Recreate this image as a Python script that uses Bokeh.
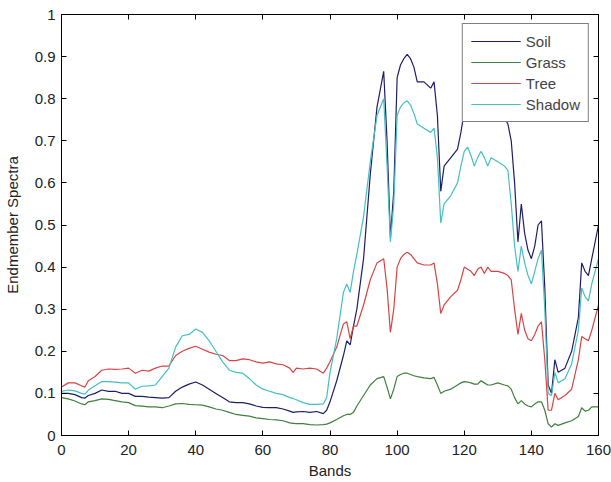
from bokeh.plotting import figure
from bokeh.models import LinearAxis, FixedTicker, Range1d, Legend, LegendItem
from bokeh.embed import file_html
from bokeh.resources import INLINE

bands = [0,2,4,6,7,8,10,12,14,16,
         18,20,22,24,26,28,30,32,34,36,
         38,40,42,44,46,48,50,52,54,56,
         58,60,62,64,66,68,69,70,72,74,
         76,78,79,80,82,84,85,86,87,88,
         90,92,94,96,97,98,99,100,101,102,
         103,104,105,106,108,110,111,112,113,114,
         116,118,119,120,121,122,123,124,125,126,
         127,128,130,132,133,134,135,136,137,138,
         139,140,141,142,143,144,145,146,147,148,
         150,152,154,155,156,157,158,160]

soil = [0.100,0.100,0.097,0.090,0.089,0.095,0.100,0.108,0.105,0.105,
        0.100,0.100,0.093,0.093,0.091,0.090,0.089,0.090,0.105,0.115,
        0.122,0.127,0.120,0.110,0.100,0.090,0.080,0.078,0.078,0.075,
        0.070,0.067,0.066,0.066,0.063,0.058,0.055,0.056,0.057,0.055,
        0.057,0.052,0.060,0.080,0.130,0.190,0.225,0.215,0.260,0.300,
        0.420,0.620,0.780,0.865,0.700,0.470,0.580,0.850,0.880,0.895,
        0.905,0.895,0.875,0.840,0.840,0.825,0.840,0.760,0.580,0.640,
        0.660,0.680,0.720,0.770,0.790,0.790,0.780,0.790,0.800,0.790,
        0.780,0.790,0.780,0.755,0.740,0.700,0.600,0.460,0.550,0.480,
        0.440,0.420,0.450,0.500,0.510,0.350,0.120,0.100,0.180,0.150,
        0.160,0.200,0.280,0.410,0.390,0.380,0.420,0.500]

grass = [0.090,0.087,0.082,0.075,0.073,0.080,0.083,0.087,0.086,0.083,
         0.080,0.078,0.071,0.070,0.068,0.068,0.066,0.070,0.075,0.076,
         0.074,0.073,0.072,0.068,0.063,0.060,0.055,0.050,0.048,0.046,
         0.042,0.040,0.038,0.037,0.035,0.030,0.029,0.028,0.028,0.026,
         0.025,0.026,0.027,0.030,0.038,0.047,0.050,0.050,0.055,0.070,
         0.095,0.120,0.135,0.140,0.115,0.087,0.110,0.140,0.145,0.148,
         0.148,0.145,0.142,0.140,0.137,0.135,0.138,0.120,0.100,0.105,
         0.110,0.120,0.125,0.128,0.127,0.125,0.122,0.122,0.130,0.125,
         0.120,0.120,0.125,0.120,0.118,0.110,0.090,0.075,0.083,0.075,
         0.070,0.068,0.075,0.080,0.080,0.060,0.028,0.020,0.028,0.024,
         0.030,0.035,0.045,0.066,0.058,0.060,0.068,0.068]

tree = [0.115,0.125,0.125,0.118,0.115,0.130,0.140,0.155,0.158,0.157,
        0.158,0.160,0.148,0.155,0.153,0.160,0.165,0.165,0.190,0.200,
        0.207,0.212,0.205,0.198,0.193,0.190,0.178,0.178,0.182,0.180,
        0.175,0.172,0.175,0.170,0.168,0.160,0.150,0.160,0.158,0.160,
        0.158,0.148,0.160,0.175,0.210,0.265,0.270,0.230,0.260,0.260,
        0.310,0.370,0.410,0.420,0.350,0.245,0.300,0.400,0.420,0.430,
        0.435,0.430,0.420,0.410,0.405,0.405,0.410,0.360,0.290,0.310,
        0.330,0.345,0.370,0.400,0.395,0.390,0.380,0.395,0.400,0.385,
        0.400,0.390,0.390,0.385,0.380,0.370,0.300,0.240,0.290,0.250,
        0.230,0.225,0.240,0.260,0.270,0.180,0.060,0.060,0.100,0.085,
        0.095,0.110,0.180,0.235,0.230,0.225,0.250,0.310]

shadow = [0.105,0.108,0.106,0.100,0.098,0.108,0.118,0.128,0.128,0.127,
          0.125,0.125,0.110,0.117,0.118,0.120,0.140,0.160,0.210,0.237,
          0.240,0.253,0.245,0.225,0.200,0.175,0.155,0.150,0.148,0.135,
          0.120,0.110,0.105,0.100,0.097,0.090,0.088,0.085,0.078,0.074,
          0.074,0.075,0.090,0.150,0.230,0.340,0.360,0.340,0.390,0.430,
          0.520,0.650,0.760,0.800,0.640,0.460,0.550,0.760,0.780,0.790,
          0.795,0.785,0.765,0.740,0.730,0.720,0.730,0.660,0.505,0.550,
          0.570,0.600,0.640,0.675,0.685,0.665,0.640,0.660,0.675,0.660,
          0.640,0.660,0.650,0.640,0.630,0.550,0.450,0.390,0.450,0.410,
          0.380,0.360,0.390,0.420,0.440,0.300,0.100,0.095,0.150,0.125,
          0.135,0.170,0.250,0.350,0.330,0.320,0.360,0.420]

series_names = ["Soil", "Grass", "Tree", "Shadow"]
series_values = [soil, grass, tree, shadow]
series_colors = ["#1e1e66", "#3f7f3f", "#d64545", "#45c0c0"]

x_ticks = [0, 20, 40, 60, 80, 100, 120, 140, 160]
y_ticks = [0, 0.1, 0.2, 0.3, 0.4, 0.5, 0.6, 0.7, 0.8, 0.9, 1]
y_tick_labels = {0: "0", 1: "1"}

FONT = "Liberation Sans"
FS = "15px"

p = figure(width=611, height=482, output_backend="svg", toolbar_location=None,
           x_range=Range1d(0, 160), y_range=Range1d(0, 1),
           min_border_left=61, min_border_right=13, min_border_top=14, min_border_bottom=47)
p.grid.visible = False
p.outline_line_color = "black"
p.outline_line_width = 1

items = []
for name, vals, col in zip(series_names, series_values, series_colors):
    r = p.line(bands, vals, line_color=col, line_width=1.2)
    items.append(LegendItem(label=name, renderers=[r]))

def style_axis(ax, labels=True):
    ax.axis_line_color = "black"
    ax.major_tick_in = 5
    ax.major_tick_out = 0
    ax.minor_tick_line_color = None
    ax.major_tick_line_color = "black"
    ax.major_label_text_font = FONT
    ax.major_label_text_font_size = FS if labels else "0px"
    ax.major_label_text_color = "#222222"
    ax.axis_label_text_font = FONT
    ax.axis_label_text_font_size = FS
    ax.axis_label_text_font_style = "normal"
    ax.axis_label_text_color = "#222222"
    if not labels:
        ax.major_label_standoff = 0

xa = p.xaxis[0]
xa.ticker = FixedTicker(ticks=x_ticks)
xa.axis_label = "Bands"
xa.major_label_standoff = 9
xa.axis_label_standoff = 4
style_axis(xa)
ya = p.yaxis[0]
ya.ticker = FixedTicker(ticks=y_ticks)
ya.major_label_overrides = y_tick_labels
ya.axis_label = "Endmember Spectra"
ya.major_label_standoff = 6
ya.axis_label_standoff = 11
style_axis(ya)

top = LinearAxis(ticker=FixedTicker(ticks=x_ticks))
style_axis(top, labels=False)
top.major_label_overrides = {t: "" for t in x_ticks}
p.add_layout(top, "above")
right = LinearAxis(ticker=FixedTicker(ticks=y_ticks))
style_axis(right, labels=False)
right.major_label_overrides = {t: "" for t in y_ticks}
p.add_layout(right, "right")

legend = Legend(items=items, location="top_right")
legend.border_line_color = "black"
legend.border_line_width = 1
legend.label_text_font = FONT
legend.label_text_font_size = FS
legend.glyph_width = 50
legend.glyph_height = 18
legend.label_height = 18
legend.spacing = 3
legend.padding = 8
legend.margin = 9
legend.background_fill_alpha = 1
p.add_layout(legend)

open("out.html", "w").write(file_html(p, INLINE))
